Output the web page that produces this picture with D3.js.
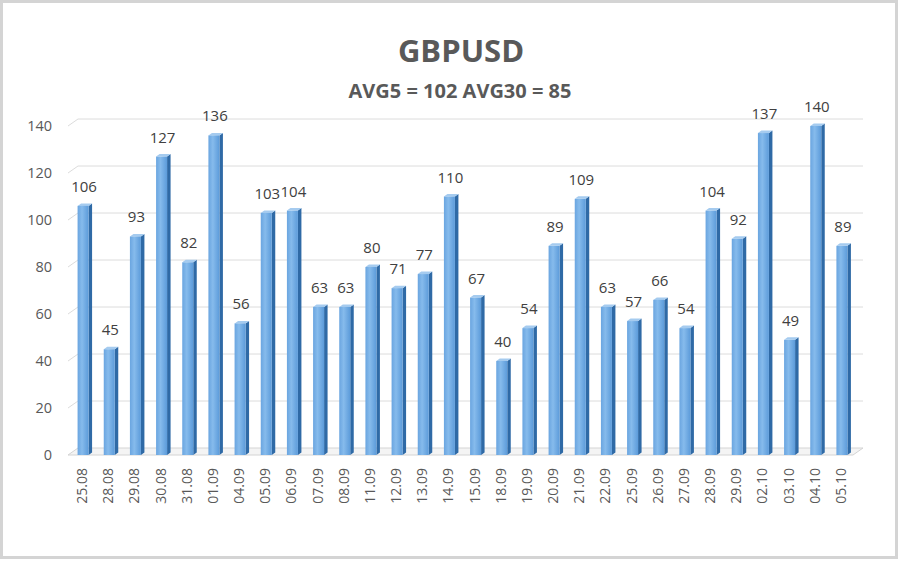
<!DOCTYPE html>
<html>
<head>
<meta charset="utf-8">
<script src="https://cdn.jsdelivr.net/npm/d3@7"></script>
<style>
  body { margin: 0; background: #fff; }
  svg { display: block; font-family: "Open Sans", sans-serif; }
</style>
</head>
<body>
<div class="container"></div>
<script>
// chart data
var dates = ["25.08","28.08","29.08","30.08","31.08","01.09","04.09","05.09","06.09","07.09",
             "08.09","11.09","12.09","13.09","14.09","15.09","18.09","19.09","20.09","21.09",
             "22.09","25.09","26.09","27.09","28.09","29.09","02.10","03.10","04.10","05.10"];
var values = [106,45,93,127,82,136,56,103,104,63,
              63,80,71,77,110,67,40,54,89,109,
              63,57,66,54,104,92,137,49,140,89];
var yTicks = [0,20,40,60,80,100,120,140];
var title = "GBPUSD";
var subtitle = "AVG5 = 102 AVG30 = 85";

var width = 900, height = 562;
var dx = 10, dy = -7;       // depth offset of the back wall
var barW = 11, sideW = 3.5, sideH = -2.5;

var svg = d3.select(".container").append("svg")
  .attr("width", width).attr("height", height);

// gradient for the bar faces
var defs = svg.append("defs");
var grad = defs.append("linearGradient").attr("id", "face")
  .attr("x1", "0%").attr("x2", "100%").attr("y1", "0%").attr("y2", "0%");
grad.append("stop").attr("offset", "0%").attr("stop-color", "#6aa5e0");
grad.append("stop").attr("offset", "40%").attr("stop-color", "#86bbec");
grad.append("stop").attr("offset", "100%").attr("stop-color", "#5c9bda");

// outer frame
svg.append("rect").attr("x", 1.5).attr("y", 1.5)
  .attr("width", width - 5).attr("height", height - 6)
  .attr("fill", "#fff").attr("stroke", "#d4d4d4").attr("stroke-width", 3);

var x = d3.scaleBand().domain(dates).range([70, 855]);
var y = d3.scaleLinear().domain([0, 140]).range([455, 126]);

// gridlines on the back wall + side wall
var grid = svg.append("g");
yTicks.forEach(function(t) {
  if (t === 0) return;
  grid.append("path")
    .attr("d", "M" + 68 + "," + y(t) + "L" + (68 + dx) + "," + (y(t) + dy) + "L" + 863 + "," + (y(t) + dy))
    .attr("fill", "none").attr("stroke", "#dcdcdc").attr("stroke-width", 1);
});

// floor
svg.append("path")
  .attr("d", "M68," + y(0) + "L853," + y(0) + "L863," + (y(0) + dy) + "L78," + (y(0) + dy) + "Z")
  .attr("fill", "#f4f4f4").attr("stroke", "#d4d4d4").attr("stroke-width", 1);

// y axis labels
svg.append("g").selectAll("text").data(yTicks).enter().append("text")
  .attr("x", 52).attr("y", function(d) { return y(d); })
  .attr("dy", "0.35em").attr("text-anchor", "end")
  .attr("font-size", 14.5).attr("fill", "#595959")
  .text(function(d) { return d; });

// bars
var bars = svg.append("g").selectAll("g").data(values).enter().append("g");
var cx = function(d, i) { return x(dates[i]) + x.bandwidth() / 2; };

bars.append("path") // side
  .attr("d", function(d, i) {
    var r = cx(d, i) + barW / 2, t = y(d), b = y(0);
    return "M" + r + "," + t + "L" + (r + sideW) + "," + (t + sideH) + "L" + (r + sideW) + "," + (b + sideH) + "L" + r + "," + b + "Z";
  })
  .attr("fill", "#2f6aa6");

bars.append("path") // top
  .attr("d", function(d, i) {
    var l = cx(d, i) - barW / 2, r = l + barW, t = y(d);
    return "M" + l + "," + t + "L" + (l + sideW) + "," + (t + sideH) + "L" + (r + sideW) + "," + (t + sideH) + "L" + r + "," + t + "Z";
  })
  .attr("fill", "#a5cbef");

bars.append("rect") // front
  .attr("x", function(d, i) { return cx(d, i) - barW / 2; })
  .attr("y", function(d) { return y(d); })
  .attr("width", barW)
  .attr("height", function(d) { return y(0) - y(d); })
  .attr("fill", "url(#face)");

// value labels
bars.append("text")
  .attr("x", function(d, i) { return cx(d, i) + 1; })
  .attr("y", function(d) { return y(d) - 14; })
  .attr("text-anchor", "middle")
  .attr("font-size", 15).attr("fill", "#404040")
  .text(function(d) { return d; });

// x labels (rotated)
svg.append("g").selectAll("text").data(dates).enter().append("text")
  .attr("transform", function(d) { return "translate(" + (x(d) + x.bandwidth() / 2 + 4) + ",468) rotate(-90)"; })
  .attr("text-anchor", "end")
  .attr("font-size", 14).attr("fill", "#595959")
  .text(function(d) { return d; });

// titles
svg.append("text").attr("x", 461).attr("y", 62).attr("text-anchor", "middle")
  .attr("font-size", 31).attr("font-weight", "bold").attr("fill", "#595959")
  .text(title);
svg.append("text").attr("x", 460).attr("y", 98).attr("text-anchor", "middle")
  .attr("font-size", 20).attr("font-weight", "bold").attr("fill", "#595959")
  .text(subtitle);
</script>
</body>
</html>
